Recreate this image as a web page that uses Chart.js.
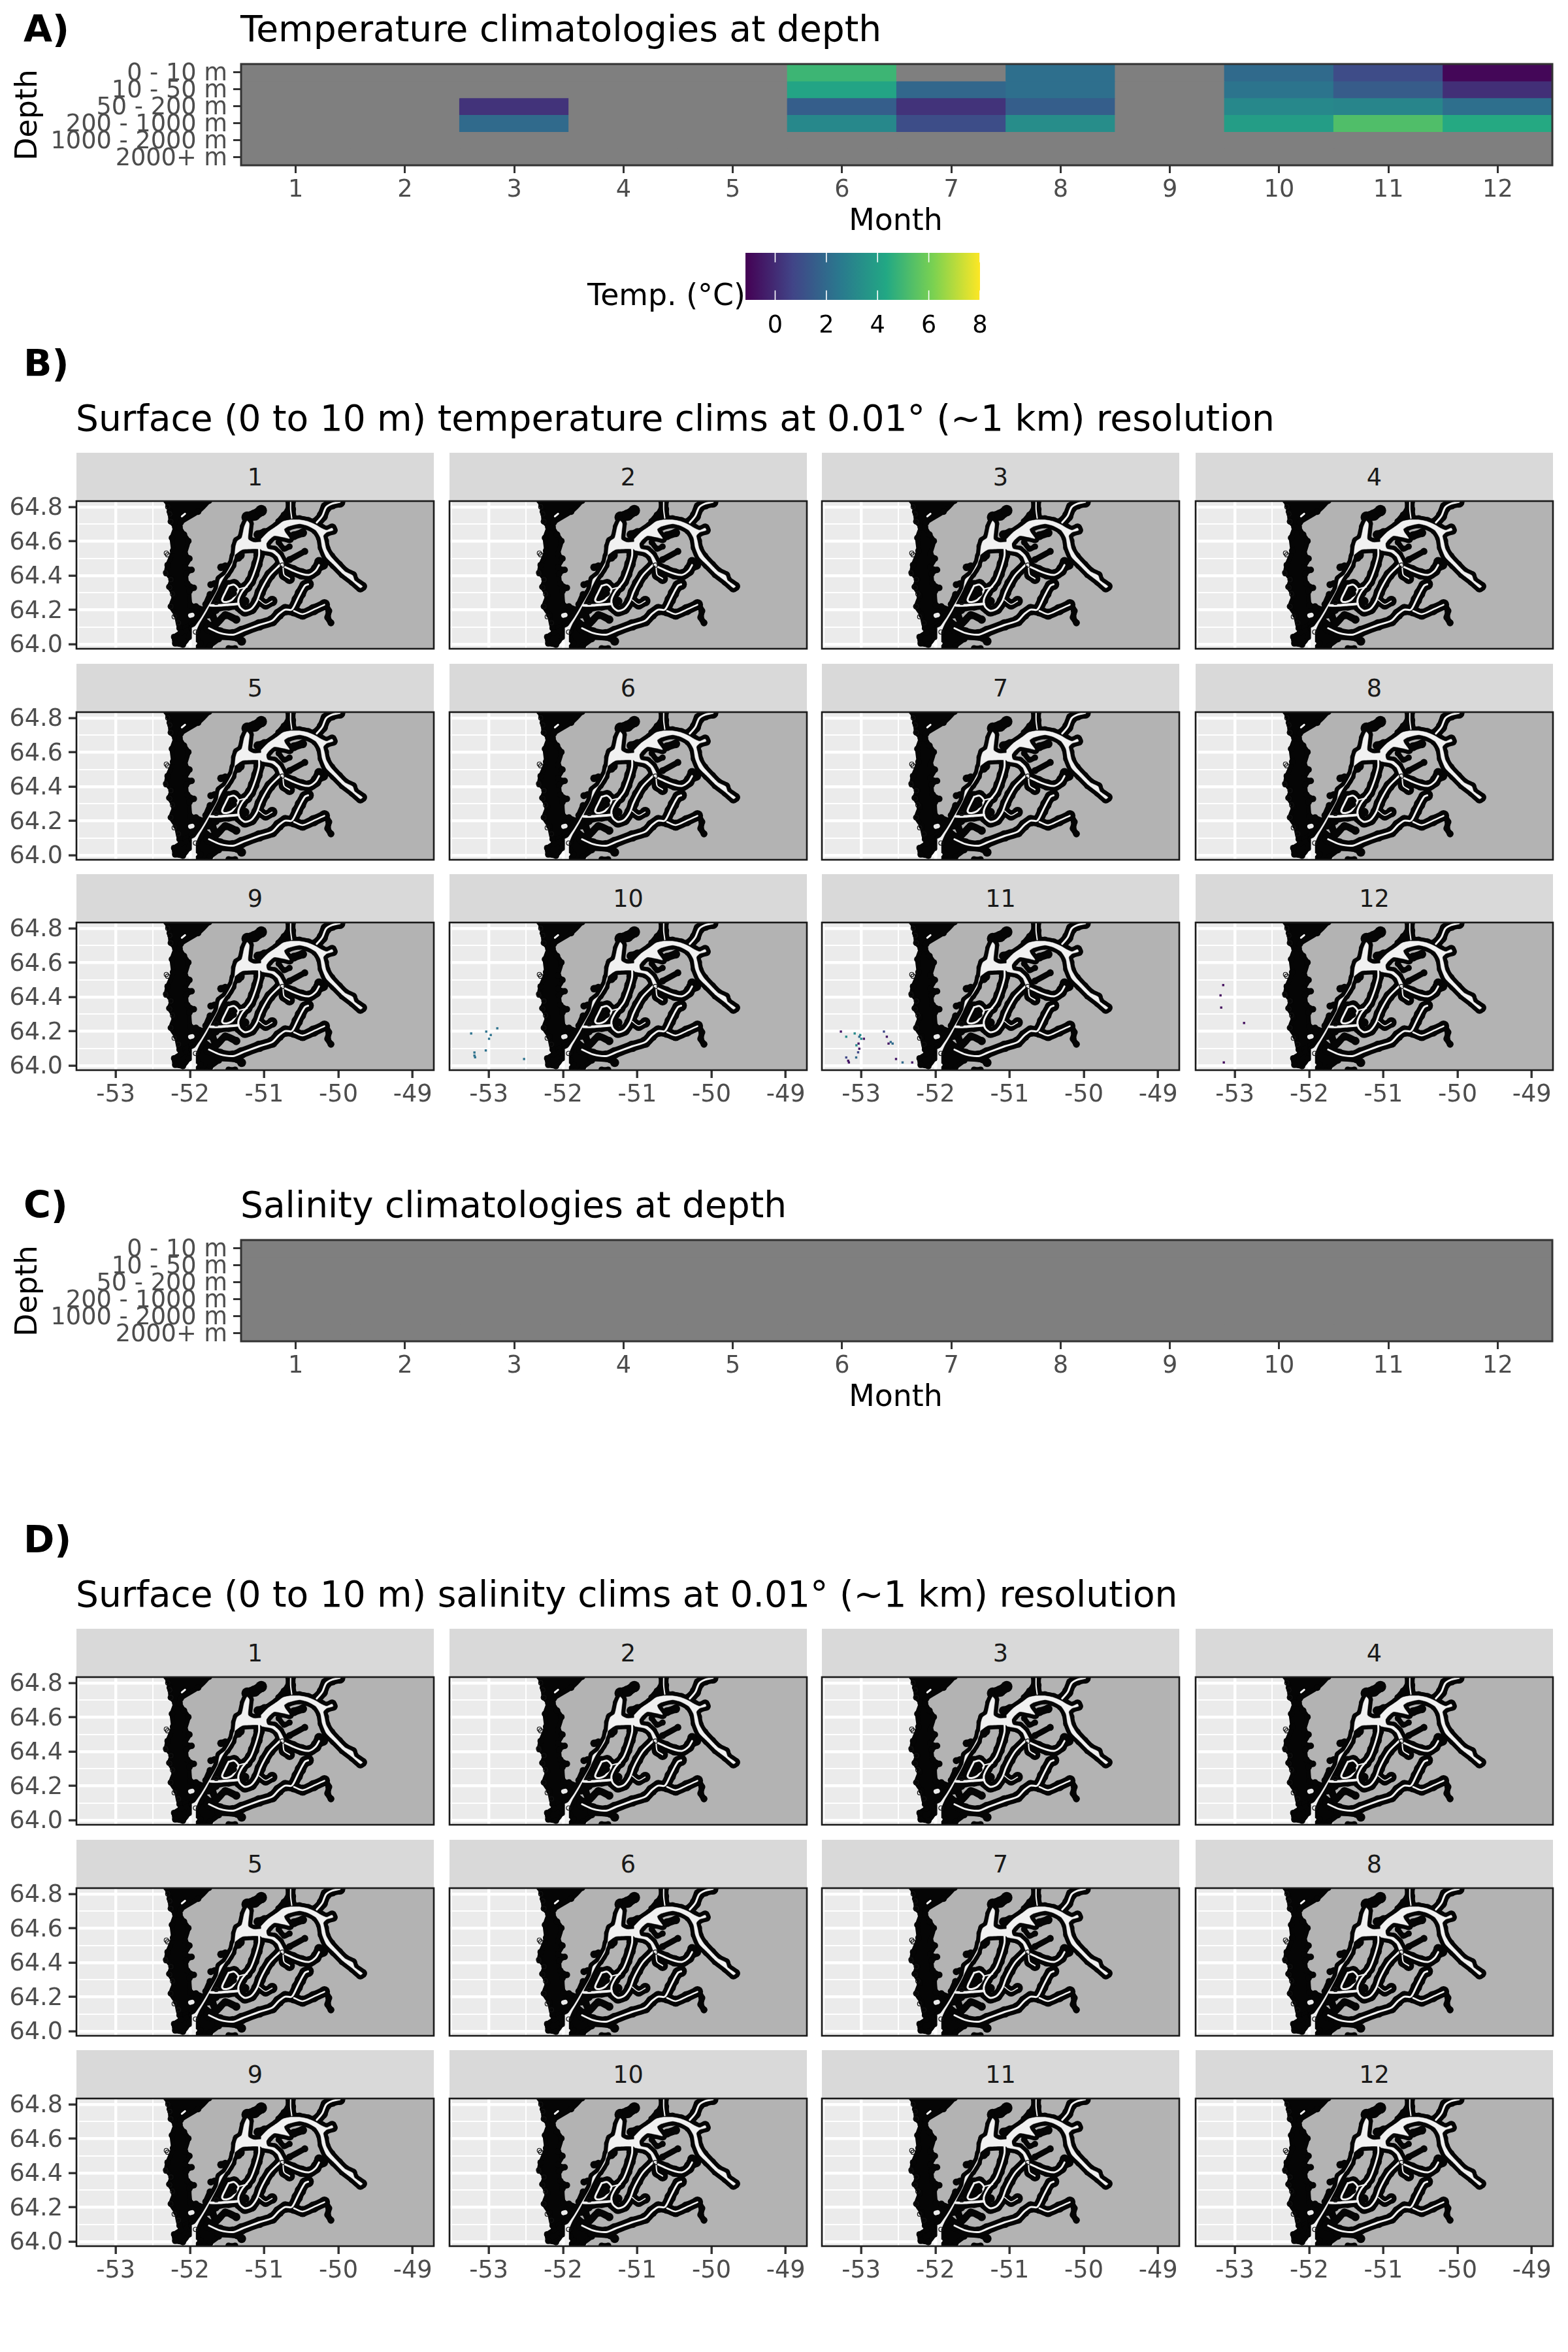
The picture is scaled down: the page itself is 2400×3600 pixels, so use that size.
<!DOCTYPE html>
<html><head><meta charset="utf-8">
<script src="https://cdn.jsdelivr.net/npm/chart.js@4/dist/chart.umd.min.js"></script>
<style>
html,body{margin:0;padding:0;background:#fff}
#page{position:relative;width:2400px;height:3600px;overflow:hidden;font-family:'DejaVu Sans';background:#fff}
#page canvas{position:absolute}
.t{position:absolute;line-height:1;white-space:pre}
.strip{position:absolute;background:#d9d9d9;color:#1a1a1a;font-size:36.67px;text-align:center;line-height:76px}
</style></head><body><div id="page"></div>
<script>
/* ---------- categories and labels ---------- */
const months=['1','2','3','4','5','6','7','8','9','10','11','12'];
const depthLabels=['0 - 10 m','10 - 50 m','50 - 200 m','200 - 1000 m','1000 - 2000 m','2000+ m'];
const legendTicks=[0,2,4,6,8];
const legendPalette=['#440154','#414487','#2A788E','#22A884','#7AD151','#FDE725'];
const legendMin=-1.16, legendMax=8;
const lonGrid=[-53.5,-53,-52.5,-52,-51.5,-51,-50.5,-50,-49.5,-49];
const latGrid=[64,64.1,64.2,64.3,64.4,64.5,64.6,64.7,64.8];
/* ---------- panel A values (deg C) by depth, month 1..12 ---------- */
const temp0to10   =[null,null,null,null,null,4.9,null,2.2,null,2.0,0.95,-1.0];
const temp10to50  =[null,null,null,null,null,4.2,1.9,2.2,null,2.35,1.5,0.1];
const temp50to200 =[null,null,0.2,null,null,1.6,0.2,1.6,null,3.1,3.0,2.2];
const temp200to1k =[null,null,2.0,null,null,3.1,1.0,3.3,null,3.9,5.3,4.4];
const temp1kto2k  =[null,null,null,null,null,null,null,null,null,null,null,null];
const temp2kplus  =[null,null,null,null,null,null,null,null,null,null,null,null];
/* ---------- panel C values: no salinity data at any depth ---------- */
const sal0to10   =[null,null,null,null,null,null,null,null,null,null,null,null];
const sal10to50  =[null,null,null,null,null,null,null,null,null,null,null,null];
const sal50to200 =[null,null,null,null,null,null,null,null,null,null,null,null];
const sal200to1k =[null,null,null,null,null,null,null,null,null,null,null,null];
const sal1kto2k  =[null,null,null,null,null,null,null,null,null,null,null,null];
const sal2kplus  =[null,null,null,null,null,null,null,null,null,null,null,null];
/* ---------- surface temperature pixels [lon,lat,temp] ---------- */
const surfOct=[[-53.238,64.187,2.3],[-53.035,64.198,2.3],[-52.886,64.217,2.3],[-52.974,64.178,2.3],[-52.997,64.156,2.3],[-53.041,64.088,2.3],[-53.194,64.076,2.3],[-53.194,64.058,2.3],[-53.185,64.048,2.3],[-52.525,64.038,2.3]];
const surfNov=[[-53.274,64.198,-0.6],[-53.088,64.187,3.2],[-53.202,64.168,3.2],[-53.013,64.178,3.2],[-53.026,64.168,2.0],[-53.0,64.156,3.2],[-52.964,64.156,-0.6],[-52.694,64.198,0.8],[-52.655,64.168,-0.6],[-52.603,64.137,2.0],[-52.632,64.128,-0.6],[-52.577,64.128,2.0],[-53.065,64.118,3.2],[-53.036,64.128,-0.6],[-53.026,64.098,-0.6],[-53.042,64.077,0.8],[-53.068,64.047,2.0],[-53.202,64.047,0.8],[-53.176,64.028,-0.6],[-53.166,64.018,-0.6],[-52.531,64.038,-0.6],[-52.443,64.018,2.0],[-52.313,64.018,-0.6]];
const surfDec=[[-53.158,64.469,-0.8],[-53.194,64.409,-0.8],[-53.185,64.338,-0.8],[-52.877,64.248,-0.8],[-53.15,64.018,-0.8]];
/* ---------- coastline traced in lon/lat ---------- */
const landOutline=[[-51.729,64.867],[-52.111,64.702],[-52.096,64.588],[-52.096,64.334],[-51.949,64.220],[-51.847,64.194],[-51.759,64.156],[-51.729,64.029],[-51.641,63.953],[-48.5,63.953],[-48.5,64.867]];
const coastBand=[[-52.316,64.855],[-52.316,64.836],[-52.272,64.772],[-52.257,64.715],[-52.199,64.683],[-52.243,64.620],[-52.228,64.544],[-52.301,64.461],[-52.316,64.417],[-52.249,64.378],[-52.278,64.334],[-52.213,64.283],[-52.257,64.220],[-52.184,64.169],[-52.140,64.093],[-51.979,64.118],[-51.832,64.201],[-51.920,64.220],[-51.993,64.226],[-52.008,64.309],[-51.949,64.328],[-52.037,64.353],[-52.052,64.410],[-51.979,64.433],[-52.067,64.448],[-52.008,64.499],[-52.067,64.525],[-52.023,64.601],[-52.081,64.639],[-52.140,64.683],[-52.125,64.709],[-51.891,64.772],[-51.744,64.836],[-51.729,64.855]];
const islandBlob=[[-51.979,64.093],[-52.014,64.042],[-52.096,63.997],[-52.199,64.004],[-52.213,64.042],[-52.125,64.067]];
const southCluster=[[-51.920,64.067],[-51.803,64.137],[-51.729,64.112],[-51.729,64.080],[-51.626,64.055],[-51.612,64.029],[-51.729,63.991],[-51.773,63.966],[-51.935,63.966],[-51.861,64.004],[-51.905,64.029]];
const seaMain=[[-51.949,64.093],[-51.847,64.156],[-51.759,64.220],[-51.656,64.296],[-51.568,64.372],[-51.480,64.436],[-51.406,64.499],[-51.386,64.569],[-51.362,64.601],[-51.304,64.620],[-51.269,64.683],[-51.230,64.719],[-51.201,64.702],[-51.216,64.613],[-51.142,64.594],[-50.981,64.594],[-50.981,64.556],[-51.128,64.556],[-51.289,64.552],[-51.348,64.537],[-51.406,64.514],[-51.436,64.461],[-51.509,64.410],[-51.597,64.378],[-51.626,64.321],[-51.700,64.258],[-51.773,64.194],[-51.876,64.118],[-51.920,64.080]];
const seaNorth=[[-51.040,64.613],[-50.952,64.652],[-50.835,64.687],[-50.747,64.715],[-50.644,64.725],[-50.527,64.725],[-50.409,64.715],[-50.306,64.696],[-50.233,64.677],[-50.160,64.664],[-50.086,64.677],[-50.072,64.664],[-50.160,64.652],[-50.204,64.632],[-50.189,64.601],[-50.166,64.556],[-50.101,64.509],[-49.998,64.461],[-49.910,64.423],[-49.808,64.400],[-49.784,64.372],[-49.676,64.337],[-49.705,64.328],[-49.808,64.366],[-49.940,64.410],[-50.057,64.461],[-50.160,64.505],[-50.218,64.563],[-50.242,64.620],[-50.306,64.664],[-50.424,64.692],[-50.527,64.702],[-50.673,64.687],[-50.732,64.670],[-50.717,64.652],[-50.659,64.616],[-50.747,64.624],[-50.864,64.632],[-50.937,64.607],[-50.975,64.582],[-50.952,64.556],[-50.864,64.547],[-50.791,64.518],[-50.732,64.467],[-50.770,64.458],[-50.820,64.509],[-50.893,64.535],[-50.996,64.544],[-51.040,64.550]];
const mouthPatch=[[-51.973,64.095],[-51.891,64.112],[-51.926,64.067],[-51.926,63.966],[-51.979,63.966]];
const chanNorthEast=[[-50.292,64.709],[-50.218,64.747],[-50.166,64.798],[-50.086,64.819],[-49.984,64.829]];
const chanNorthTop=[[-50.629,64.734],[-50.644,64.785],[-50.644,64.836]];
const chanEast=[[-50.747,64.455],[-50.615,64.429],[-50.497,64.410],[-50.395,64.404],[-50.306,64.429],[-50.262,64.461]];
const chanJunctionStub=[[-50.747,64.455],[-50.732,64.404],[-50.659,64.382]];
const chanLoop=[[-51.069,64.556],[-51.069,64.518],[-51.098,64.467],[-51.142,64.410],[-51.186,64.366],[-51.245,64.334],[-51.304,64.302],[-51.348,64.258],[-51.333,64.220],[-51.260,64.194],[-51.172,64.207],[-51.098,64.251],[-51.054,64.302],[-50.996,64.353],[-50.922,64.404],[-50.790,64.461]];
const chanSmallRing=[[-51.480,64.340],[-51.406,64.347],[-51.348,64.321],[-51.362,64.302],[-51.436,64.258],[-51.539,64.245],[-51.568,64.258],[-51.524,64.302],[-51.480,64.340]];
const chanRingLink=[[-51.348,64.321],[-51.230,64.334]];
const chanBottomLink=[[-51.729,64.226],[-51.597,64.226],[-51.480,64.230],[-51.348,64.235]];
const chanLowerStub=[[-51.069,64.258],[-50.981,64.232],[-50.893,64.251]];
const chanSouth=[[-51.744,64.093],[-51.597,64.065],[-51.421,64.055],[-51.304,64.074],[-51.069,64.112],[-50.893,64.137],[-50.805,64.175],[-50.717,64.201],[-50.629,64.201],[-50.556,64.258],[-50.512,64.296],[-50.453,64.340],[-50.409,64.349]];
const chanSouthBranch=[[-50.600,64.194],[-50.482,64.175],[-50.336,64.201],[-50.189,64.230]];
const stubA=[[-50.682,64.778],[-50.732,64.753],[-50.805,64.715]];
const stubB=[[-50.306,64.442],[-50.204,64.461],[-50.262,64.480]];
const stubC=[[-50.189,64.239],[-50.130,64.194],[-50.145,64.156],[-50.101,64.124]];
const stubD=[[-51.612,64.048],[-51.362,64.039],[-51.304,64.017]];
const stubE=[[-51.480,63.976],[-51.392,63.976]];
const stubF=[[-50.659,64.493],[-50.453,64.541]];
const stubG=[[-50.805,64.594],[-50.732,64.556],[-50.659,64.569]];
const stubH=[[-50.600,64.632],[-50.483,64.649]];
const stubI=[[-51.230,64.740],[-51.128,64.753],[-51.040,64.779]];
const stubJ=[[-51.591,64.349],[-51.553,64.331]];
const stubK=[[-51.084,64.639],[-50.996,64.651]];
const stubL=[[-51.348,64.505],[-51.318,64.518]];
const stubM=[[-51.582,64.448],[-51.524,64.455]];
const stubN=[[-51.720,64.347],[-51.671,64.353]];
const stubO=[[-51.729,64.290],[-51.788,64.232]];
const stubP=[[-51.700,64.169],[-51.641,64.124],[-51.524,64.169],[-51.377,64.143]];
const stubQ=[[-51.759,64.175],[-51.656,64.201]];
const stubR=[[-51.304,64.262],[-51.260,64.250]];
const ringIsland=[[-51.480,64.277],[-51.406,64.296]];
const coastSlit=[[-52.110,64.745],[-52.067,64.760]];
const coastHole=[[-51.995,64.167],[-51.970,64.170]];
const offshoreRings=[[-52.319,64.531],[-52.301,64.521],[-52.331,64.417],[-52.325,64.410],[-52.272,64.330],[-52.257,64.376],[-52.237,64.293],[-52.257,64.220],[-52.213,64.160],[-51.926,64.071],[-51.647,64.243],[-52.301,64.801],[-52.272,64.759],[-52.257,64.715],[-52.155,64.124],[-50.756,64.461]];

/* ---------- helpers ---------- */
const page=document.getElementById('page');
Chart.defaults.font.family="'DejaVu Sans'";
Chart.defaults.animation=false;
function text(s,x,base,size,o={}){
  const d=document.createElement('div');d.className='t';d.textContent=s;
  d.style.cssText=`left:${x}px;top:${base-0.846*size}px;font-size:${size}px;color:${o.color||'#000'};font-weight:${o.bold?'bold':'normal'}`;
  if(o.center)d.style.transform='translateX(-50%)';
  page.appendChild(d);return d;
}
function rgb(h){return [1,3,5].map(i=>parseInt(h.substr(i,2),16));}
function colorFor(v){
  if(v===null)return '#7f7f7f';
  const t=Math.min(0.9999,Math.max(0,(v-legendMin)/(legendMax-legendMin)))*(legendPalette.length-1);
  const i=Math.floor(t),f=t-i,a=rgb(legendPalette[i]),b=rgb(legendPalette[i+1]);
  return `rgb(${a.map((c,k)=>Math.round(c+(b[k]-c)*f)).join(',')})`;
}
function addCanvas(x,y,w,h){
  const c=document.createElement('canvas');c.width=w;c.height=h;
  c.style.left=x+'px';c.style.top=y+'px';c.style.width=w+'px';c.style.height=h+'px';
  page.appendChild(c);return c.getContext('2d');
}
const framePlugin=(bg,color,width)=>({id:'frame',
  beforeDraw(ch){const a=ch.chartArea,c=ch.ctx;if(!bg)return;c.save();c.fillStyle=bg;c.fillRect(a.left,a.top,a.right-a.left,a.bottom-a.top);c.restore();},
  afterDatasetsDraw(ch){const a=ch.chartArea,c=ch.ctx;c.save();c.strokeStyle=color;c.lineWidth=width;c.strokeRect(a.left,a.top,a.right-a.left,a.bottom-a.top);c.restore();}
});
const M_T=40,M_R=20;

/* ---------- heatmaps ---------- */
function heatmap(rows,top){
  const W=2007,H=155,mL=369,mB=70;
  const ctx=addCanvas(0,top-M_T,mL+W+M_R,M_T+H+mB);
  const datasets=rows.map((r,d)=>({
    data:r.map(()=>[d,d+1]),
    backgroundColor:r.map(colorFor),
    borderWidth:0,barPercentage:1,categoryPercentage:1,clip:0,inflateAmount:0.6,grouped:false
  }));
  new Chart(ctx,{type:'bar',data:{labels:months,datasets},
    plugins:[framePlugin('#7f7f7f','#333333',3)],
    options:{responsive:false,events:[],layout:{padding:{top:M_T,right:M_R,left:0,bottom:0}},
      plugins:{legend:{display:false},tooltip:{enabled:false}},
      scales:{
        x:{type:'category',offset:true,border:{display:false},
          grid:{drawOnChartArea:false,tickColor:'#333333',tickWidth:3,tickLength:12,offset:false},
          ticks:{color:'#4d4d4d',font:{size:36.67},padding:4,maxRotation:0,autoSkip:false},
          afterFit(s){s.height=mB;}},
        y:{type:'linear',reverse:true,min:0,max:6,border:{display:false},
          afterBuildTicks(s){s.ticks=depthLabels.map((l,i)=>({value:i+0.5}));},
          grid:{drawOnChartArea:false,tickColor:'#333333',tickWidth:3,tickLength:12},
          ticks:{color:'#4d4d4d',font:{size:36.67},padding:9,labelOffset:3,autoSkip:false,callback:v=>depthLabels[Math.round(v-0.5)]},
          afterFit(s){s.width=mL;}}
      }}});
}
heatmap([temp0to10,temp10to50,temp50to200,temp200to1k,temp1kto2k,temp2kplus],98);
heatmap([sal0to10,sal10to50,sal50to200,sal200to1k,sal1kto2k,sal2kplus],1898);

/* ---------- colour bar ---------- */
(function(){
  const x=1141,y=387,w=359,h=72,mB=60,pad=40;
  const ctx=addCanvas(x-pad,y-M_T,w+2*pad,M_T+h+mB);
  new Chart(ctx,{type:'bar',data:{labels:['Temp. (°C)'],datasets:[{
      data:[[legendMin,legendMax]],borderWidth:0,barPercentage:1,categoryPercentage:1,clip:0,inflateAmount:0,
      backgroundColor(c){const a=c.chart.chartArea;if(!a)return '#888';
        const g=c.chart.ctx.createLinearGradient(a.left,0,a.right,0);
        legendPalette.forEach((p,i)=>g.addColorStop(i/(legendPalette.length-1),p));return g;}
    }]},
    plugins:[{id:'ticks',afterDatasetsDraw(ch){const s=ch.scales.x,a=ch.chartArea,c=ch.ctx,l=(a.bottom-a.top)/5;
      c.save();c.strokeStyle='#fff';c.lineWidth=1.6;
      legendTicks.forEach(v=>{const p=s.getPixelForValue(v);c.beginPath();c.moveTo(p,a.top);c.lineTo(p,a.top+l);c.moveTo(p,a.bottom-l);c.lineTo(p,a.bottom);c.stroke();});
      c.restore();}}],
    options:{indexAxis:'y',responsive:false,events:[],layout:{padding:{left:pad,right:pad,top:M_T,bottom:0}},
      plugins:{legend:{display:false},tooltip:{enabled:false}},
      scales:{
        x:{type:'linear',min:legendMin,max:legendMax,border:{display:false},
          afterBuildTicks(s){s.ticks=legendTicks.map(value=>({value}));},
          grid:{display:false},ticks:{color:'#000',font:{size:36.67},padding:10,autoSkip:false,maxRotation:0},
          afterFit(s){s.height=mB;}},
        y:{type:'category',display:false}
      }}});
})();

/* ---------- facets ---------- */
const close=p=>p.concat([p[0]]);
const toXY=p=>p.map(([x,y])=>({x,y}));
function line(p,color,width,bump=0,tension=0.3){
  return {data:toXY(p),showLine:true,borderColor:color,borderWidth:width,pointRadius:bump,pointHoverRadius:0,
    pointBackgroundColor:color,pointBorderWidth:0,tension,borderCapStyle:'round',borderJoinStyle:'round',fill:false,clip:0};
}
function area(p,fillCol,strokeCol,width,bump=0,tension=0.2){
  const d=line(close(p),strokeCol,width,bump,tension);d.fill='shape';d.backgroundColor=fillCol;return d;
}
const BLACK='#050505',SEA='#f1f1f1';
const channels=[[chanNorthEast,3],[chanNorthTop,2],[chanEast,3],[chanJunctionStub,2],[chanLoop,3],[chanSmallRing,3],[chanRingLink,2],[chanBottomLink,4],[chanLowerStub,1.5],[chanSouth,3],[chanSouthBranch,2.5]];
const stubs=[[stubA,9],[stubB,13],[stubC,9],[stubD,12],[stubE,8],[stubF,9],[stubG,8],[stubH,12],[stubI,16],[stubJ,14],[stubK,12],[stubL,11],[stubM,10],[stubN,9],[stubO,9],[stubP,11],[stubQ,12],[stubR,12]];
function mapLayers(points){
  const bottom=[];
  bottom.push(area(landOutline,'#b3b3b3','#b3b3b3',0,0,0));
  bottom.push(area(coastBand,BLACK,BLACK,7,5,0.2));
  bottom.push(area(islandBlob,BLACK,BLACK,7,5,0.2));
  bottom.push(area(southCluster,BLACK,BLACK,7,5,0.2));
  bottom.push(line(close(seaMain),BLACK,13,7,0.2));
  bottom.push(line(close(seaNorth),BLACK,13,7,0.2));
  channels.forEach(([p,w])=>bottom.push(line(p,BLACK,w+13,(w+13)/2+0.8)));
  stubs.forEach(([p,w])=>bottom.push(line(p,BLACK,w,w/2+0.8)));
  bottom.push(area(seaMain,SEA,SEA,0.5,0,0.2));
  bottom.push(area(seaNorth,SEA,SEA,0.5,0,0.2));
  bottom.push(area(mouthPatch,SEA,SEA,0.5,0,0));
  channels.forEach(([p,w])=>bottom.push(line(p,SEA,w)));
  bottom.push(line(ringIsland,BLACK,9));
  bottom.push(line(coastSlit,'#ffffff',3));
  bottom.push(line(coastHole,'#ebebeb',7));
  bottom.push({data:toXY(offshoreRings),showLine:false,pointRadius:3.3,pointBorderWidth:1.2,pointBorderColor:'#111',pointBackgroundColor:'rgba(0,0,0,0)',clip:0});
  if(points.length)bottom.push({data:toXY(points.map(p=>[p[0],p[1]])),showLine:false,pointStyle:'rect',pointRadius:2.4,pointBorderWidth:0,pointBackgroundColor:points.map(p=>colorFor(p[2])),clip:0});
  return bottom.reverse();
}
const colLefts=[117,688,1258,1830],rowTops=[767,1090,1412],pW=547,pH=226,mL=116,mB=70;
function facet(idx,off,points){
  const col=idx%4,row=Math.floor(idx/4),L=colLefts[col],T=rowTops[row]+off;
  const s=document.createElement('div');s.className='strip';s.textContent=months[idx];
  s.style.left=L+'px';s.style.top=(T-74)+'px';s.style.width=pW+'px';s.style.height='74px';page.appendChild(s);
  const ctx=addCanvas(L-mL,T-M_T,mL+pW+M_R,M_T+pH+mB);
  const showX=row===2,showY=col===0;
  const lonMajor=v=>Number.isInteger(v);
  const latMajor=v=>Math.round(v*10)%2===0;
  new Chart(ctx,{type:'scatter',data:{datasets:mapLayers(points)},
    plugins:[framePlugin('#ebebeb','#1a1a1a',2.6)],
    options:{responsive:false,events:[],layout:{padding:{top:M_T,right:M_R,left:0,bottom:0}},
      plugins:{legend:{display:false},tooltip:{enabled:false}},
      scales:{
        x:{type:'linear',min:-53.53,max:-48.715,border:{display:false},
          afterBuildTicks(a){a.ticks=lonGrid.map(value=>({value}));},
          grid:{color:'#ffffff',lineWidth:c=>c.tick&&lonMajor(c.tick.value)?4.4:2,
            tickColor:c=>showX&&c.tick&&lonMajor(c.tick.value)?'#333333':'rgba(0,0,0,0)',tickWidth:3.4,tickLength:12},
          ticks:{color:'#4d4d4d',font:{size:36.67},padding:4,autoSkip:false,maxRotation:0,
            callback:v=>showX&&lonMajor(v)?String(v):''},
          afterFit(a){a.height=mB;}},
        y:{type:'linear',min:63.973,max:64.834,border:{display:false},
          afterBuildTicks(a){a.ticks=latGrid.map(value=>({value}));},
          grid:{color:'#ffffff',lineWidth:c=>c.tick&&latMajor(c.tick.value)?4.4:2,
            tickColor:c=>showY&&c.tick&&latMajor(c.tick.value)?'#333333':'rgba(0,0,0,0)',tickWidth:3.4,tickLength:12},
          ticks:{color:'#4d4d4d',font:{size:36.67},padding:9,labelOffset:3,autoSkip:false,
            callback:v=>showY&&latMajor(v)?v.toFixed(1):''},
          afterFit(a){a.width=mL;}}
      }}});
}
for(let i=0;i<12;i++)facet(i,0,i===9?surfOct:i===10?surfNov:i===11?surfDec:[]);
for(let i=0;i<12;i++)facet(i,1800,[]);

/* ---------- titles ---------- */
function depthTitle(cy){
  const d=text('Depth',41,cy,45.8,{});d.style.top=(cy-22.9)+'px';d.style.transform='translate(-50%,0) rotate(-90deg)';
}
text('A)',36,64,57,{bold:true});
text('Temperature climatologies at depth',368,64,55);
depthTitle(176);
text('Month',1371,353,45.8,{center:true});
text('Temp. (°C)',899,468,45.8);
text('B)',36,576,57,{bold:true});
text('Surface (0 to 10 m) temperature clims at 0.01° (~1 km) resolution',116,660,55);
text('C)',36,1864,57,{bold:true});
text('Salinity climatologies at depth',368,1864,55);
depthTitle(1976);
text('Month',1371,2153,45.8,{center:true});
text('D)',36,2376,57,{bold:true});
text('Surface (0 to 10 m) salinity clims at 0.01° (~1 km) resolution',116,2460,55);
</script></body></html>
